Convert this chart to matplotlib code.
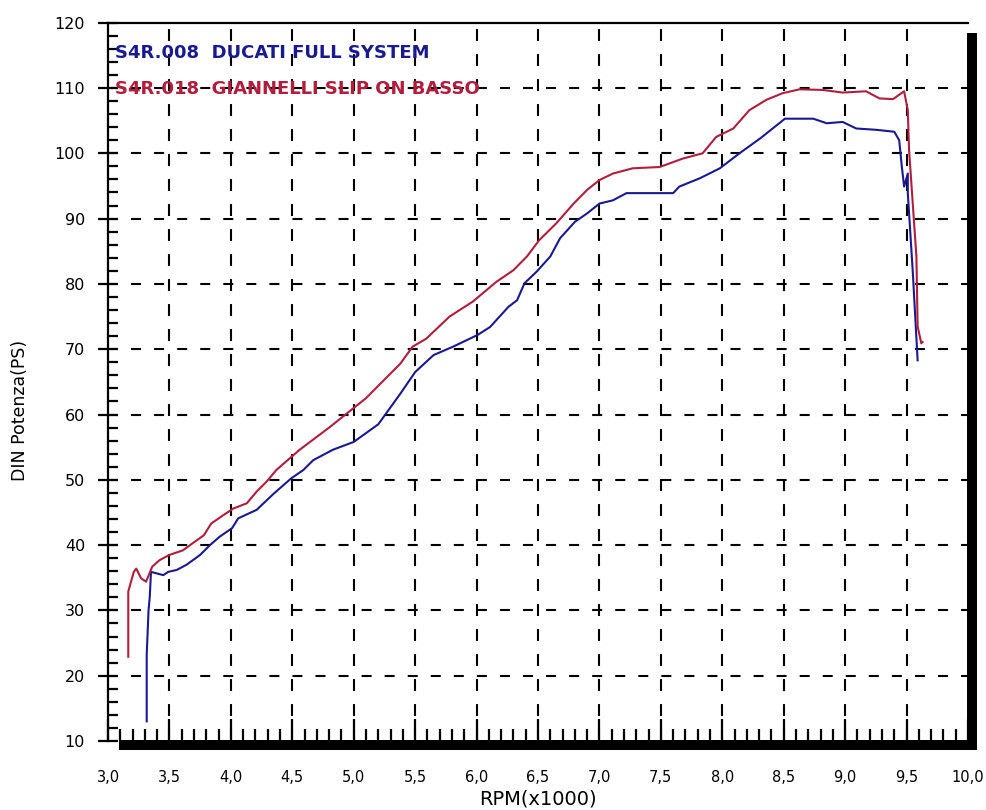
import matplotlib

matplotlib.use("Agg")
import matplotlib.pyplot as plt
from matplotlib.patches import Rectangle
from matplotlib.ticker import MultipleLocator, FuncFormatter

# DUCATI full system (blue)
rpm_ducati = [3.315, 3.315, 3.33, 3.34, 3.35, 3.45, 3.49, 3.56, 3.64, 3.75, 3.83, 3.91,
              4.01, 4.06, 4.21, 4.35, 4.49, 4.59, 4.67, 4.83, 5.00, 5.20, 5.38, 5.50,
              5.65, 5.81, 6.01, 6.11, 6.26, 6.33, 6.39, 6.49, 6.60, 6.68, 6.80, 6.90,
              7.00, 7.11, 7.22, 7.49, 7.60, 7.65, 7.82, 7.98, 8.14, 8.31, 8.51, 8.74,
              8.85, 8.98, 9.09, 9.25, 9.40, 9.44, 9.46, 9.48, 9.51, 9.51, 9.55, 9.59]
ps_ducati = [13.0, 23.2, 30.0, 32.1, 35.9, 35.4, 35.9, 36.2, 37.0, 38.5, 40.0, 41.3,
             42.6, 44.1, 45.4, 47.9, 50.2, 51.5, 53.0, 54.6, 55.8, 58.5, 63.2, 66.5,
             69.1, 70.4, 72.2, 73.4, 76.5, 77.5, 80.1, 81.9, 84.2, 87.0, 89.5, 90.8,
             92.3, 92.8, 93.9, 93.9, 93.9, 94.9, 96.2, 97.7, 100.0, 102.3, 105.3, 105.3,
             104.6, 104.8, 103.8, 103.6, 103.3, 102.0, 98.2, 94.9, 96.9, 93.9, 82.0, 68.3]

# GIANNELLI slip-on basso (red)
rpm_giannelli = [3.165, 3.165, 3.21, 3.23, 3.27, 3.31, 3.36, 3.42, 3.50, 3.61, 3.69, 3.78,
                 3.84, 3.94, 4.02, 4.13, 4.21, 4.29, 4.37, 4.48, 4.56, 4.80, 5.10, 5.38,
                 5.48, 5.59, 5.78, 5.97, 6.16, 6.30, 6.41, 6.51, 6.65, 6.79, 6.90, 7.00,
                 7.11, 7.27, 7.49, 7.68, 7.84, 7.95, 8.09, 8.22, 8.36, 8.49, 8.63, 8.82,
                 8.98, 9.17, 9.28, 9.39, 9.48, 9.51, 9.52, 9.55, 9.58, 9.59, 9.62, 9.63]
ps_giannelli = [22.9, 32.9, 35.9, 36.4, 34.9, 34.4, 36.7, 37.7, 38.5, 39.2, 40.3, 41.5,
                43.3, 44.6, 45.6, 46.4, 48.2, 49.7, 51.5, 53.3, 54.6, 58.0, 62.5, 67.8,
                70.4, 71.6, 75.0, 77.3, 80.3, 82.1, 84.2, 86.7, 89.3, 92.3, 94.4, 95.9,
                96.9, 97.7, 97.9, 99.2, 100.0, 102.5, 103.8, 106.6, 108.2, 109.2, 109.8, 109.7,
                109.3, 109.5, 108.4, 108.3, 109.5, 106.6, 100.6, 92.4, 84.2, 73.5, 70.9, 71.1]

LABEL_DUCATI = "S4R.008  DUCATI FULL SYSTEM"
LABEL_GIANNELLI = "S4R.018  GIANNELLI SLIP ON BASSO"

BLUE, RED = "#1a1a90", "#b01e3c"
W, H = 986, 810

plt.rcParams.update({"font.family": "DejaVu Sans", "lines.scale_dashes": False})

fig = plt.figure(figsize=(W / 100, H / 100), dpi=100)
ax = fig.add_axes([108 / W, (H - 741) / H, 860 / W, 718.3 / H])

ax.set_xlim(3.0, 10.0)
ax.set_ylim(10, 120)

# dashed grid
for x in [3.5 + 0.5 * i for i in range(13)]:
    ax.axvline(x, color="black", lw=1.5, dashes=(8.6, 9.4), zorder=1)
for y in range(20, 120, 10):
    ax.axhline(y, color="black", lw=1.5, dashes=(7.2, 9.4), zorder=1)

ax.plot(rpm_ducati, ps_ducati, color=BLUE, lw=1.5, zorder=3)
ax.plot(rpm_giannelli, ps_giannelli, color=RED, lw=1.5, zorder=4)

ax.text(0.008, 0.958, LABEL_DUCATI, transform=ax.transAxes, color=BLUE,
        fontsize=13, fontweight="bold", va="center", ha="left")
ax.text(0.008, 0.908, LABEL_GIANNELLI, transform=ax.transAxes, color=RED,
        fontsize=13, fontweight="bold", va="center", ha="left")

# axes frame
for s in ("right", "bottom"):
    ax.spines[s].set_visible(False)
ax.spines["left"].set_linewidth(1.6)
ax.spines["top"].set_linewidth(1.6)

ax.xaxis.set_major_locator(MultipleLocator(0.5))
ax.xaxis.set_minor_locator(MultipleLocator(0.1))
ax.yaxis.set_major_locator(MultipleLocator(10))
ax.yaxis.set_minor_locator(MultipleLocator(2))
ax.xaxis.set_major_formatter(FuncFormatter(lambda v, p: f"{v:.1f}".replace(".", ",")))
ax.tick_params(axis="x", which="major", direction="in", length=16, width=1.6,
               pad=21, labelsize=10.5)
ax.tick_params(axis="x", which="minor", direction="in", length=9, width=1.6)
ax.tick_params(axis="y", which="major", direction="inout", length=14, width=1.6,
               pad=9.5, labelsize=11.5)
ax.tick_params(axis="y", which="minor", direction="in", length=7, width=1.6)

ax.set_xlabel("RPM(x1000)", fontsize=14)
ax.set_ylabel("DIN Potenza(PS)", fontsize=12.5)
ax.xaxis.set_label_coords(0.5, -0.068)
ax.yaxis.set_label_coords(-0.092, 0.46)

# heavy bottom/right bars of the plot frame
fig.add_artist(Rectangle((119 / W, (H - 750) / H), (977 - 119) / W, 10 / H,
                         transform=fig.transFigure, color="black", lw=0))
fig.add_artist(Rectangle((967 / W, (H - 750) / H), 10 / W, (750 - 33) / H,
                         transform=fig.transFigure, color="black", lw=0))

fig.savefig("out.png", dpi=100, facecolor="white")
